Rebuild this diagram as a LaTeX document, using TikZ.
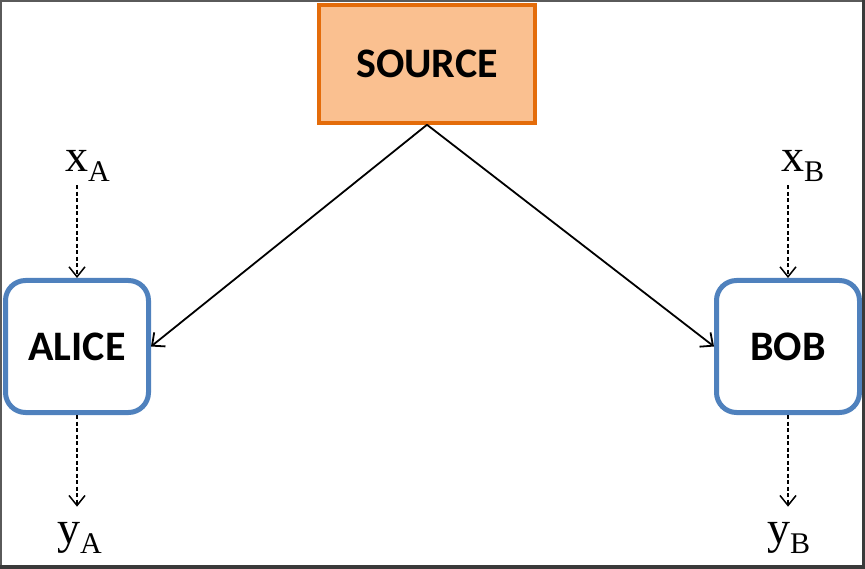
\documentclass[tikz,border=0pt]{standalone}
\usepackage{fontspec}
\setmainfont{Liberation Serif}
\newfontfamily\boxfont{Carlito}
\usetikzlibrary{arrows.meta}
\definecolor{srcfill}{HTML}{FAC090}
\definecolor{srcline}{HTML}{E46C0A}
\definecolor{partyline}{HTML}{4F81BD}
\definecolor{framegray}{HTML}{5A5A5A}
\definecolor{framedark}{HTML}{3A3A3A}
\newcommand\lowsub[1]{\raisebox{-10pt}{\fontsize{30}{32}\selectfont #1}}
\begin{document}
\begin{tikzpicture}[x=1pt,y=-1pt,
  srcbox/.style={draw=srcline, fill=srcfill, line width=3.5pt, minimum width=216pt, minimum height=118pt, font=\boxfont\bfseries\fontsize{42}{44}\selectfont},
  partybox/.style={draw=partyline, fill=white, line width=5pt, rounded corners=20pt, minimum width=143pt, minimum height=132pt, font=\boxfont\bfseries\fontsize{42}{44}\selectfont},
  lbl/.style={inner sep=0pt, font=\fontsize{46}{48}\selectfont},
  solidarrow/.style={line width=1.8pt, -{Straight Barb[length=10pt,width=18pt,line width=1.8pt]}},
  dasharrow/.style={line width=1.5pt, dash pattern=on 4pt off 2.5pt, -{Straight Barb[length=10pt,width=16pt,line width=1.5pt]}}
]
\useasboundingbox (0,0) rectangle (865,569);
\fill[framegray] (0,0) rectangle (865,2);
\fill[framegray] (0,0) rectangle (2,569);

\node[srcbox] (source) at (427,64) {SOURCE};
\node[partybox] (alice) at (77,346.5) {ALICE};
\node[partybox] (bob) at (788,346.5) {BOB};

\node[lbl, anchor=base west] (xa) at (65,172) {x\lowsub{A}};
\node[lbl, anchor=base west] (ya) at (57,543) {y\lowsub{A}};
\node[lbl, anchor=base west] (xb) at (781,172) {x\lowsub{B}};
\node[lbl, anchor=base west] (yb) at (767,543) {y\lowsub{B}};

\draw[solidarrow] (source.south) -- (alice.east);
\draw[solidarrow] (source.south) -- (bob.west);
\draw[dasharrow, shorten <=3pt] (alice.north |- xa.south) -- (alice.north);
\draw[dasharrow, shorten <=3pt] (bob.north |- xb.south) -- (bob.north);
\draw[dasharrow, shorten >=15pt] (alice.south) -- (alice.south |- ya.north);
\draw[dasharrow, shorten >=15pt] (bob.south) -- (bob.south |- yb.north);

\fill[framedark] (862,0) rectangle (865,569);
\fill[framedark] (0,565) rectangle (865,569);
\end{tikzpicture}
\end{document}
